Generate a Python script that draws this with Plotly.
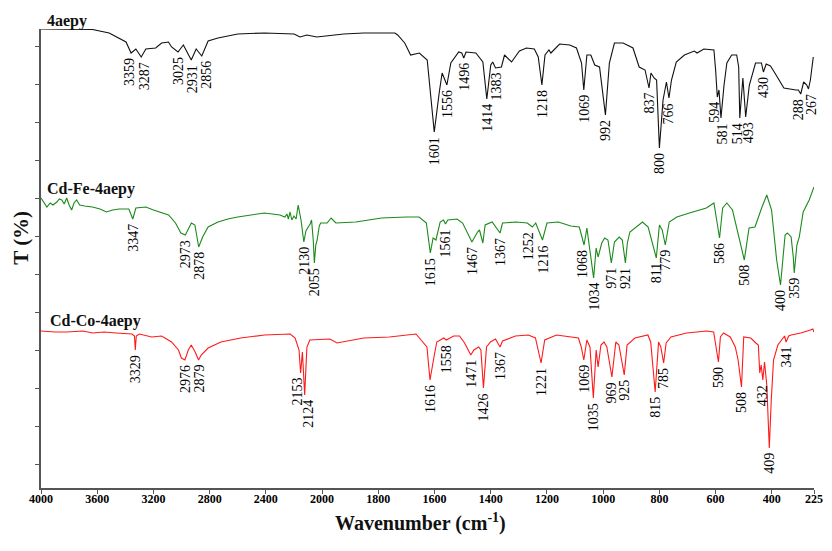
import numpy as np
import plotly.graph_objects as go

# ---------------- data (wavenumber cm-1, transmittance in arbitrary offset units) ----------------
bk_wn = [4000,3634,3515,3395,3359,3325,3287,3254,3184,3142,3093,3071,3025,2987,2931,2896,2856,2811,2741,2600,
         2410,2199,2157,2108,2038,1923,1852,1741,1731,1706,1685,1654,1626,1601,1583,1573,1556,1542,1514,1503,
         1496,1488,1453,1428,1414,1400,1393,1383,1362,1351,1326,1298,1273,1245,1231,1218,1207,1193,1186,1155,
         1119,1095,1077,1069,1058,1044,1030,1013,992,978,960,929,894,872,851,837,830,819,810,800,
         787,775,766,757,740,711,676,666,642,606,600,594,588,581,570,560,543,525,518,514,
         503,493,480,472,458,437,430,420,405,390,350,300,290,280,268,255,248,240,228]
bk_t = [459,458.5,455,446,435,439,431,439,440,445,446,441,436,443,428,439,432,447,450,454,
        455,454,451,453,451,454,455,455,453,445,433,435,428,356,396,415,403,425,436,435,
        430,436,435,426,389,423,426,420,421,433,426,437,440,439,431,403,433,438,435,444,
        443,440,425,398,433,433,423,421,373,425,445,445,440,421,418,400,415,410,408,340,
        388,406,390,408,426,433,437,435,439,438,418,391,398,370,403,425,433,433,421,370,
        410,371,403,411,425,425,416,424,422,416,400,398,398,394,406,403,399,408,431]

fe_wn = [4000,3975,3958,3935,3915,3887,3870,3852,3835,3817,3800,3782,3765,3747,3725,3690,3634,3580,3535,3490,
         3444,3375,3347,3325,3254,3200,3162,3092,3043,3005,2973,2950,2930,2905,2878,2850,2811,2741,2670,2600,
         2500,2410,2300,2265,2250,2240,2228,2215,2200,2185,2170,2150,2130,2115,2103,2085,2075,2063,2055,2045,
         2035,2020,2010,1982,1968,1951,1880,1789,1700,1655,1629,1615,1605,1595,1580,1568,1561,1553,1520,1500,
         1467,1455,1447,1440,1428,1420,1395,1367,1358,1310,1270,1252,1240,1216,1200,1160,1115,1085,1068,1058,
         1050,1034,1025,1018,1005,995,983,971,960,943,932,921,914,905,860,840,811,800,790,779,
         765,738,693,633,606,586,575,560,540,516,498,481,460,435,418,401,380,364,345,335,
         320,311,307,296,286,270,245,225]
fe_t = [290,284,281,285,283,286,289,288,284,290,283,278,285,288,283,282,281,279,276,278,
        279,279,269,280,281,278,276,273,265,255,253,260,265,263,241,251,261,266,269,271,
        273,275,273,271,274,269,276,268,272,269,283,268,246,257,260,264,268,248,225,243,
        248,262,265,265,270,265,266,270,271,271,265,235,250,248,266,268,264,268,269,265,
        246,253,256,258,245,263,266,255,265,266,265,261,265,248,265,266,262,261,243,260,
        243,210,240,231,245,250,248,225,246,251,248,225,245,256,266,261,230,263,258,243,
        266,271,275,280,285,250,280,285,278,251,228,260,261,281,293,278,228,203,253,255,
        251,231,215,243,251,276,288,301]

co_wn = [4000,3900,3817,3700,3634,3550,3465,3353,3335,3329,3322,3300,3212,3142,3071,3022,3001,2976,2952,2931,
         2903,2879,2860,2811,2720,2579,2410,2227,2192,2164,2153,2140,2124,2108,2087,1972,1947,1852,1761,1666,
         1627,1616,1602,1592,1567,1558,1532,1511,1493,1471,1460,1443,1435,1426,1415,1401,1383,1367,1358,1312,
         1266,1241,1221,1208,1166,1120,1088,1078,1069,1058,1047,1035,1025,1018,1008,997,987,969,955,944,
         925,915,887,841,831,815,803,795,785,776,759,703,632,607,590,583,572,548,530,520,
         508,500,475,457,448,443,438,432,426,418,409,402,393,375,355,347,341,330,320,280,
         240,230,225]
co_t = [157,156,156,157,155,156,155,154,152,138,152,154,151,152,146,138,130,128,138,143,
        136,128,133,140,146,150,153,154,150,138,115,136,93,141,148,149,145,150,151,154,
        141,108,131,146,150,148,152,152,145,133,138,141,138,100,141,146,149,141,147,152,
        153,150,125,148,153,151,150,141,128,148,141,90,138,121,143,146,141,111,146,143,
        113,143,150,153,146,96,146,141,125,145,151,155,157,156,126,151,155,151,141,128,
        101,151,150,145,143,115,123,108,126,103,40,88,128,143,150,152,146,152,153,155,
        158,159,156]

bk_labels = ["3359","3287","3025","2931","2856","1601","1556","1496","1414","1383","1218","1069","992",
             "837","800","766","594","581","514","493","430","288","267"]
bk_label_wn = [3359,3287,3025,2931,2856,1601,1556,1496,1414,1383,1218,1069,992,
               837,800,766,594,581,514,493,430,280,248]
fe_labels = ["3347","2973","2878","2130","2055","1615","1561","1467","1367","1252","1216","1068","1034",
             "971","921","811","779","586","508","400","359"]
fe_label_wn = [3347,2973,2878,2130,2055,1615,1561,1467,1367,1252,1216,1068,1034,
               971,921,811,779,586,498,364,307]
co_labels = ["3329","2976","2879","2153","2124","1616","1558","1471","1426","1367","1221","1069","1035",
             "969","925","815","785","590","508","432","409","341"]
co_label_wn = [3329,2976,2879,2153,2124,1616,1558,1471,1426,1367,1221,1069,1035,
               969,925,815,785,590,508,432,409,341]

tick_wn = [4000,3600,3200,2800,2400,2000,1800,1600,1400,1200,1000,800,600,400,225]
series_names = ["4aepy", "Cd-Fe-4aepy", "Cd-Co-4aepy"]
series_colors = ["#111111", "#1b8a1b", "#ff1a1a"]

# ---------------- axis scale (spectrometer style: scale change at 2000 and 400 cm-1) ----------------
def wn_to_u(w):
    w = np.asarray(w, dtype=float)
    return np.where(w >= 2000, (4000 - w) / 400,
                    np.where(w >= 400, 5 + (2000 - w) / 200, 13 + (400 - w) / 175 * 0.75))

SERIF = "Liberation Serif, Times New Roman, serif"
fig = go.Figure()
spectra = [(bk_wn, bk_t), (fe_wn, fe_t), (co_wn, co_t)]
for (wn, t), name, col in zip(spectra, series_names, series_colors):
    fig.add_trace(go.Scatter(x=wn_to_u(wn), y=t, mode="lines", name=name,
                             line=dict(color=col, width=1.1), showlegend=False))

annotations = []
label_sets = [(bk_labels, bk_label_wn, bk_wn, bk_t), (fe_labels, fe_label_wn, fe_wn, fe_t),
              (co_labels, co_label_wn, co_wn, co_t)]
nudge = {(0, "3359"): -2, (0, "3287"): 3, (0, "2931"): 1, (0, "2856"): 4,
         (0, "594"): -3, (0, "581"): 2, (0, "514"): -2, (0, "493"): 3,
         (0, "288"): -2, (0, "267"): 3,
         (1, "1252"): -4, (1, "1216"): 1, (1, "1068"): -2,
         (2, "2153"): -4, (2, "2124"): 3}
for si, (labs, lwn, wn, t) in enumerate(label_sets):
    lookup = dict(zip(wn, t))
    for lab, w in zip(labs, lwn):
        annotations.append(dict(x=float(wn_to_u(w)), y=lookup[w], xref="x", yref="y", text=lab,
                                showarrow=False, textangle=-90, xanchor="center", yanchor="top",
                                yshift=-3, xshift=nudge.get((si, lab), 0),
                                font=dict(family=SERIF, size=14, color="black")))

# series names
name_pos = [(0.005, 1.017), (0.005, 0.651), (0.009, 0.364)]
for name, (px, py) in zip(series_names, name_pos):
    annotations.append(dict(x=px, y=py, xref="paper", yref="paper", text=name, showarrow=False,
                            xanchor="left", yanchor="middle",
                            font=dict(family=SERIF, size=16, color="#111", weight="bold")))

annotations.append(dict(x=-0.026, y=0.545, xref="paper", yref="paper", text="T (%)", showarrow=False,
                        textangle=-90, xanchor="center", yanchor="middle",
                        font=dict(family=SERIF, size=21, color="#111", weight="bold")))
annotations.append(dict(x=0.491, y=-0.075, xref="paper", yref="paper",
                        text="Wavenumber (cm<sup>-1</sup>)", showarrow=False,
                        xanchor="center", yanchor="middle",
                        font=dict(family=SERIF, size=20, color="#111", weight="bold")))

ytick_vals = [442, 404, 366, 328, 290, 252, 214, 176, 138, 100, 62, 24]
fig.update_layout(
    width=832, height=551, margin=dict(l=41, r=9, t=29, b=63),
    paper_bgcolor="white", plot_bgcolor="white",
    annotations=annotations,
    xaxis=dict(range=[0, float(wn_to_u(225))], tickvals=wn_to_u(tick_wn).tolist(),
               ticktext=[str(v) for v in tick_wn], ticks="outside", ticklen=4, tickwidth=1,
               tickcolor="#555", showline=True, linecolor="#555", linewidth=1.5,
               showgrid=False, zeroline=False, ticklabelstandoff=-5,
               tickfont=dict(family=SERIF, size=12, color="black", weight="bold")),
    yaxis=dict(range=[0, 459], tickvals=ytick_vals, showticklabels=False, ticks="outside",
               ticklen=4, tickwidth=1, tickcolor="#555", showline=True, linecolor="#555",
               linewidth=1.5, showgrid=False, zeroline=False),
)
fig.write_html("out.html")
